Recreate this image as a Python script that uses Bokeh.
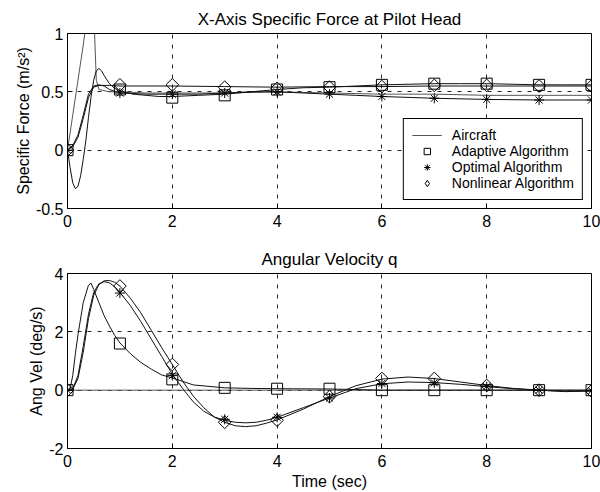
from math import pi
from bokeh.plotting import figure
from bokeh.layouts import column
from bokeh.models import (Range1d, Legend, LegendItem, FixedTicker, CustomJSTickFormatter,
                          ColumnDataSource)
from bokeh.embed import file_html
from bokeh.resources import INLINE

FONT = "Liberation Sans"

# ---------------- data: X-axis specific force (m/s^2) ----------------
f_ac_t = [0, 0.1, 0.2, 0.3, 0.33, 0.4, 0.5, 0.55, 0.6, 0.8, 1, 1.5, 2, 3, 4, 5, 6, 7, 8, 9, 10]
f_ac = [0, 0.3, 0.6, 0.9, 1.0, 1.2, 1.2, 0.6, 0.52, 0.5, 0.5, 0.49, 0.49, 0.49, 0.5, 0.49, 0.48, 0.48, 0.47, 0.47, 0.47]

f_ad_t = [0, 0.05, 0.1, 0.15, 0.2, 0.25, 0.3, 0.35, 0.4, 0.45, 0.5, 0.55, 0.6, 0.65, 0.7, 0.8, 0.9, 1.0,
          1.25, 1.5, 1.75, 2, 2.5, 3, 3.5, 4, 4.5, 5, 5.5, 6, 6.5, 7, 7.5, 8, 8.5, 9, 9.5, 10]
f_ad = [0, -0.15, -0.28, -0.33, -0.31, -0.22, -0.08, 0.08, 0.28, 0.46, 0.6, 0.68, 0.70, 0.68, 0.64, 0.57, 0.53, 0.51,
        0.48, 0.47, 0.46, 0.46, 0.47, 0.48, 0.5, 0.52, 0.535, 0.54, 0.55, 0.56, 0.565, 0.57, 0.57, 0.57, 0.565, 0.56, 0.56, 0.56]

f_op_t = [0, 0.1, 0.2, 0.3, 0.4, 0.5, 0.6, 0.7, 0.8, 1.0, 1.5, 2, 2.5, 3, 3.5, 4, 4.5, 5, 5.5, 6, 7, 8, 9, 10]
f_op = [0, 0.04, 0.13, 0.3, 0.48, 0.55, 0.56, 0.55, 0.52, 0.49, 0.48, 0.48, 0.48, 0.49, 0.5, 0.5, 0.49, 0.48, 0.47,
        0.46, 0.445, 0.435, 0.43, 0.43]

f_nl_t = [0, 0.1, 0.2, 0.3, 0.4, 0.5, 0.6, 0.8, 1, 2, 3, 4, 5, 6, 7, 8, 9, 10]
f_nl = [0, 0.03, 0.11, 0.27, 0.45, 0.54, 0.555, 0.555, 0.55, 0.55, 0.545, 0.54, 0.545, 0.545, 0.55, 0.55, 0.55, 0.55]

mk_t = [0, 1, 2, 3, 4, 5, 6, 7, 8, 9, 10]
f_ad_mk = [0, 0.52, 0.45, 0.47, 0.52, 0.54, 0.56, 0.57, 0.57, 0.56, 0.56]
f_op_mk = [0, 0.49, 0.48, 0.49, 0.50, 0.48, 0.46, 0.445, 0.435, 0.43, 0.43]
f_nl_mk = [0, 0.56, 0.56, 0.54, 0.53, 0.54, 0.545, 0.555, 0.555, 0.55, 0.55]

# ---------------- data: angular velocity q (deg/s) ----------------
q_ac_t = [0, 10]
q_ac = [0, 0]

q_ad_t = [0, 0.05, 0.1, 0.15, 0.2, 0.3, 0.4, 0.45, 0.5, 0.6, 0.7, 0.8, 0.9, 1.0, 1.2, 1.4, 1.6, 1.8, 2.0,
          2.4, 3, 3.5, 4, 5, 6, 7, 8, 9, 10]
q_ad = [0, 0.05, 0.5, 1.25, 1.9, 3.0, 3.6, 3.67, 3.45, 3.0, 2.55, 2.2, 1.88, 1.62, 1.25, 0.95, 0.72, 0.52, 0.42,
        0.18, 0.08, 0.06, 0.05, 0.04, 0.0, 0.0, 0.0, 0.0, 0.0]

q_op_t = [0, 0.1, 0.2, 0.3, 0.4, 0.5, 0.6, 0.7, 0.8, 0.9, 1.0, 1.2, 1.4, 1.6, 1.8, 2.0, 2.2, 2.4, 2.6, 2.8, 3.0,
          3.2, 3.4, 3.6, 3.8, 4.0, 4.5, 5, 5.5, 6, 6.5, 7, 7.5, 8, 8.5, 9, 9.5, 10]
q_op = [0, 0.05, 0.5, 1.5, 2.6, 3.35, 3.65, 3.72, 3.68, 3.55, 3.35, 2.9, 2.35, 1.75, 1.15, 0.55, 0.05, -0.4, -0.72,
        -0.92, -1.03, -1.1, -1.12, -1.1, -1.03, -0.93, -0.6, -0.27, 0.05, 0.22, 0.28, 0.26, 0.2, 0.12, 0.05, 0.0, -0.04, -0.02]

q_nl_t = q_op_t
q_nl = [0, 0.03, 0.4, 1.3, 2.45, 3.25, 3.62, 3.75, 3.76, 3.7, 3.57, 3.15, 2.65, 2.05, 1.45, 0.88, 0.3, -0.2, -0.6,
        -0.92, -1.1, -1.22, -1.25, -1.22, -1.13, -1.02, -0.65, -0.22, 0.15, 0.38, 0.45, 0.4, 0.28, 0.16, 0.06, 0.0, -0.05, -0.03]

q_ad_mk = [0, 1.6, 0.37, 0.08, 0.05, 0.05, 0.0, 0.0, 0.0, 0.0, 0.0]
q_op_mk = [0, 3.33, 0.5, -1.0, -0.93, -0.27, 0.23, 0.25, 0.12, 0.0, -0.02]
q_nl_mk = [0, 3.57, 0.88, -1.1, -1.03, -0.22, 0.4, 0.4, 0.16, 0.0, -0.03]

x_ticks = [0, 2, 4, 6, 8, 10]
f_ticks = [-0.5, 0, 0.5, 1]
q_ticks = [-2, 0, 2, 4]

AC_COLOR = "#555555"
LINE_COLOR = "#111111"


def make_fig(title, ylabel, yrange, yticks, height, top_b, bottom_b):
    p = figure(width=600, height=height, output_backend="svg", toolbar_location=None,
               x_range=Range1d(0, 10), y_range=Range1d(*yrange),
               min_border_left=67, min_border_right=9, min_border_top=top_b, min_border_bottom=bottom_b)
    p.title.text = title
    p.title.align = "center"
    p.title.text_font = FONT
    p.title.text_font_size = "17px"
    p.title.text_font_style = "normal"
    p.title.text_color = "black"
    p.title.standoff = 9
    p.outline_line_color = "black"
    p.outline_line_width = 1
    p.outline_line_alpha = 1
    p.background_fill_color = "white"
    p.border_fill_color = "white"
    p.xaxis.ticker = FixedTicker(ticks=x_ticks)
    p.yaxis.ticker = FixedTicker(ticks=yticks)
    p.xaxis.formatter = CustomJSTickFormatter(code="return tick.toString();")
    p.yaxis.formatter = CustomJSTickFormatter(code="return tick.toString();")
    for ax in (p.xaxis[0], p.yaxis[0]):
        ax.major_tick_in = 5
        ax.major_tick_out = 0
        ax.minor_tick_line_color = None
        ax.axis_line_color = "black"
        ax.major_tick_line_color = "black"
        ax.major_label_text_font = FONT
        ax.major_label_text_font_size = "16px"
        ax.major_label_text_color = "black"
        ax.axis_label_text_font = FONT
        ax.axis_label_text_font_size = "16px"
        ax.axis_label_text_font_style = "normal"
        ax.axis_label_text_color = "black"
    p.xaxis.major_label_standoff = 6
    p.yaxis.major_label_standoff = 4
    p.yaxis.axis_label_standoff = 1
    p.yaxis.axis_label = ylabel
    for g in (p.xgrid[0], p.ygrid[0]):
        g.grid_line_color = "black"
        g.grid_line_dash = "4 6"
        g.grid_line_width = 1
        g.grid_line_alpha = 0.85
    return p


def draw(p, ac_t, ac, ad_t, ad, op_t, op, nl_t, nl, ad_mk, op_mk, nl_mk):
    r_ac = p.line(ac_t, ac, line_color=AC_COLOR, line_width=1)
    p.line(ad_t, ad, line_color=LINE_COLOR, line_width=1)
    p.line(op_t, op, line_color=LINE_COLOR, line_width=1)
    p.line(nl_t, nl, line_color=LINE_COLOR, line_width=1)
    r_ad = p.scatter(mk_t, ad_mk, marker="square", size=11, fill_color=None, line_color="black", line_width=1)
    r_op = p.scatter(mk_t, op_mk, marker="asterisk", size=10, line_color="black", line_width=1)
    src = ColumnDataSource(dict(t=mk_t, v=nl_mk))
    p.scatter("t", "v", source=src, marker="square", angle=pi / 4, size=9, fill_color=None,
              line_color="black", line_width=1)
    # hidden copy used only as the legend swatch (legend swatches ignore marker rotation)
    r_nl_key = p.scatter("t", "v", source=src, marker="diamond", size=14, fill_color=None,
                         line_color="black", line_width=1, visible=False)
    return r_ac, r_ad, r_op, r_nl_key


p1 = make_fig("X-Axis Specific Force at Pilot Head", "Specific Force (m/s²)", (-0.5, 1), f_ticks, 240, 33, 32)
r_ac, r_ad, r_op, r_nl_key = draw(p1, f_ac_t, f_ac, f_ad_t, f_ad, f_op_t, f_op, f_nl_t, f_nl,
                                  f_ad_mk, f_op_mk, f_nl_mk)

legend = Legend(items=[
    LegendItem(label="Aircraft", renderers=[r_ac]),
    LegendItem(label="Adaptive Algorithm", renderers=[r_ad]),
    LegendItem(label="Optimal Algorithm", renderers=[r_op]),
    LegendItem(label="Nonlinear Algorithm", renderers=[r_nl_key]),
], location="bottom_right")
legend.label_text_font = FONT
legend.label_text_font_size = "14px"
legend.label_text_color = "black"
legend.border_line_color = "black"
legend.border_line_width = 1
legend.border_line_alpha = 1
legend.background_fill_color = "white"
legend.background_fill_alpha = 1
legend.inactive_fill_alpha = 0
legend.margin = 8
legend.padding = 8
legend.spacing = 0
legend.label_height = 16
legend.glyph_height = 16
legend.glyph_width = 30
legend.label_standoff = 10
p1.add_layout(legend, "center")

p2 = make_fig("Angular Velocity q", "Ang Vel (deg/s)", (-2, 4), q_ticks, 252, 33, 43)
p2.xaxis.axis_label = "Time (sec)"
p2.xaxis.axis_label_standoff = 3
draw(p2, q_ac_t, q_ac, q_ad_t, q_ad, q_op_t, q_op, q_nl_t, q_nl, q_ad_mk, q_op_mk, q_nl_mk)

layout = column(p1, p2, spacing=0)
open("out.html", "w").write(file_html(layout, INLINE))
